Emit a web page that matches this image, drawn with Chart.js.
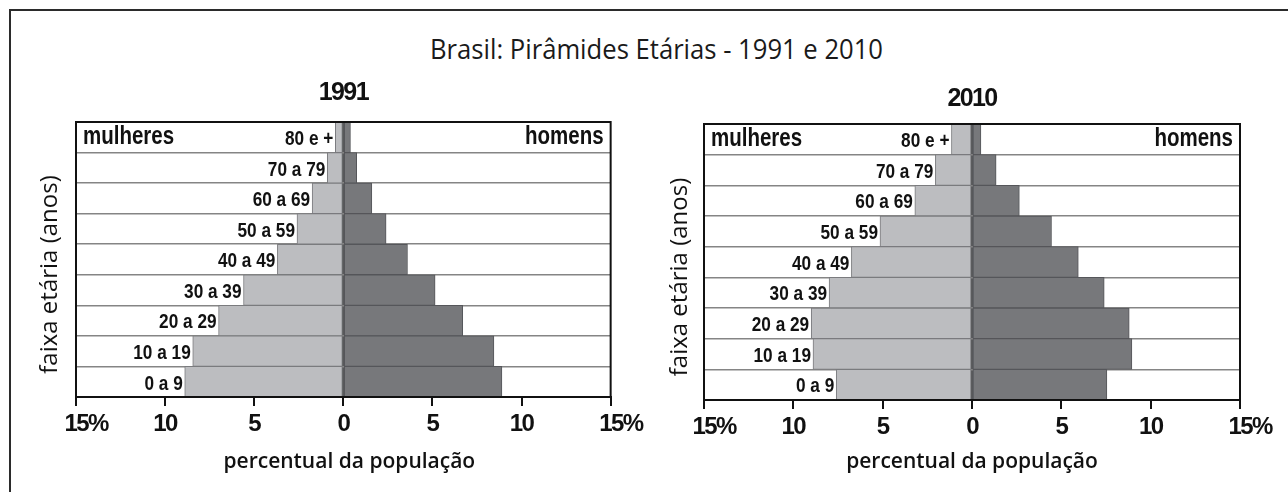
<!DOCTYPE html>
<html lang="pt-BR">
<head>
<meta charset="utf-8">
<title>Brasil: Pirâmides Etárias - 1991 e 2010</title>
<script src="https://cdn.jsdelivr.net/npm/chart.js@4.4.1/dist/chart.umd.min.js"></script>
<style>
  html, body { margin: 0; padding: 0; background: #fff; }
  body { width: 1288px; height: 492px; position: relative; overflow: hidden; }
  #moldura { position: absolute; left: 9px; top: 9px; width: 1300px; height: 500px; border: 2px solid #2b2b2b; }
  #titulo {
    position: absolute; left: 0; top: 30px; width: 1313px; text-align: center;
  }
  #titulo span {
    display: inline-block; white-space: nowrap; transform-origin: 50% 50%;
    font: 400 28px/36px 'Open Sans', 'DejaVu Sans Condensed', sans-serif; color: #1a1a1a;
  }
  canvas { position: absolute; top: 70px; }
  #c1991 { left: 0; }
  #c2010 { left: 640px; }
</style>
</head>
<body>
<div id="moldura"></div>
<div id="titulo"><span>Brasil: Pirâmides Etárias - 1991 e 2010</span></div>
<canvas id="c1991" width="652" height="422"></canvas>
<canvas id="c2010" width="648" height="422"></canvas>
<script>
// faixas etárias, de cima para baixo
const faixas = ['80 e +', '70 a 79', '60 a 69', '50 a 59', '40 a 49', '30 a 39', '20 a 29', '10 a 19', '0 a 9'];

// % da população
const mulheres1991 = [0.45, 0.9, 1.75, 2.6, 3.7, 5.6, 7.0, 8.45, 8.9];
const homens1991 = [0.4, 0.75, 1.6, 2.4, 3.6, 5.15, 6.7, 8.45, 8.9];
const mulheres2010 = [1.15, 2.05, 3.2, 5.15, 6.75, 8.0, 9.0, 8.9, 7.6];
const homens2010 = [0.5, 1.35, 2.65, 4.45, 5.95, 7.4, 8.8, 8.95, 7.55];

// o título do original é uma fonte condensada: comprime a Open Sans na largura dele
const tit = document.querySelector('#titulo span');
tit.style.transform = `scaleX(${453 / tit.getBoundingClientRect().width})`;

const bold = "'Liberation Sans', Arial, sans-serif";
const sans = "'Open Sans', 'Noto Sans', sans-serif";
const preto = '#111';

// letras mais juntas para imitar a Helvetica condensada (ticks e título de cada pirâmide)
const apertado = {
    id: 'apertado',
    beforeDraw(chart) { chart.ctx.letterSpacing = '-1.6px'; }
};

// texto em negrito "estreitado" na horizontal
function textoEstreito(ctx, txt, x, y) {
    ctx.save();
    ctx.translate(x, y);
    ctx.scale(0.82, 1);
    ctx.fillText(txt, 0, 0);
    ctx.restore();
}

// rótulos das faixas junto à barra feminina, mulheres/homens, moldura e títulos dos eixos
const piramide = {
    id: 'piramide',
    afterDatasetsDraw(chart, args, opts) {
        const { ctx, chartArea: a } = chart;
        const barras = chart.getDatasetMeta(0).data;
        ctx.save();
        ctx.letterSpacing = '0px';
        ctx.fillStyle = preto;
        ctx.textBaseline = 'middle';
        ctx.textAlign = 'right';
        ctx.font = `bold 21px ${bold}`;
        barras.forEach((b, i) => textoEstreito(ctx, chart.data.labels[i], b.x - 2, b.y + 2));

        const y0 = barras[0].y;
        ctx.font = `bold 25px ${bold}`;
        ctx.textAlign = 'left';
        textoEstreito(ctx, chart.data.datasets[0].label, a.left + 7, y0);
        ctx.textAlign = 'right';
        textoEstreito(ctx, chart.data.datasets[1].label, a.right - 7, y0);

        ctx.strokeStyle = preto;
        ctx.lineWidth = 2;
        ctx.strokeRect(a.left, a.top, a.right - a.left, a.bottom - a.top);

        ctx.textAlign = 'center';
        ctx.font = `600 21px ${sans}`;
        ctx.fillText('percentual da população', (a.left + a.right) / 2 + opts.tx, chart.height - 30);

        ctx.translate(a.left - opts.dx, (a.top + a.bottom) / 2 + 15);
        ctx.rotate(-Math.PI / 2);
        ctx.font = `500 24px ${sans}`;
        ctx.fillText('faixa etária (anos)', 0, 0);
        ctx.restore();
    }
};

function configPiramide(ano, mulheres, homens, lay) {
    return {
        type: 'bar',
        data: {
            labels: faixas,
            datasets: [
                { label: 'mulheres', data: mulheres.map(v => -v), backgroundColor: '#bcbdc0', borderColor: '#7a7b7e', borderWidth: 1, borderSkipped: false },
                { label: 'homens', data: homens, backgroundColor: '#77787b', borderColor: '#55565a', borderWidth: 1, borderSkipped: false }
            ]
        },
        options: {
            indexAxis: 'y',
            responsive: false,
            animation: false,
            datasets: { bar: { barPercentage: 1, categoryPercentage: 1 } },
            layout: { padding: { left: 0, right: lay.direita, top: 0, bottom: 0 } },
            plugins: {
                legend: { display: false },
                tooltip: { enabled: false },
                title: {
                    display: true, text: ano, fullSize: false, color: preto,
                    font: { family: bold, size: 25, weight: 'bold' },
                    padding: { top: lay.tt, bottom: lay.tb }
                },
                piramide: { dx: lay.dx, tx: lay.tx }
            },
            scales: {
                x: {
                    stacked: true, min: -15, max: 15,
                    afterFit: s => { s.height = lay.altX; },
                    // só a linha do zero aparece dentro da área; os traços dos ticks ficam pretos
                    grid: {
                        drawOnChartArea: true, drawTicks: true, tickLength: 9, lineWidth: 2,
                        color: c => c.tick && c.tick.value === 0 ? '#58595b' : 'rgba(0,0,0,0)',
                        tickColor: preto, tickWidth: 2
                    },
                    border: { color: preto, width: 2 },
                    ticks: {
                        stepSize: 5, padding: 4, color: preto, autoSkip: false, maxRotation: 0,
                        font: { family: bold, size: 24, weight: 'bold' },
                        // no original o número fica centrado no traço e o % sobra à direita
                        callback: v => Math.abs(v) === 15 ? '    15%' : String(Math.abs(v))
                    }
                },
                y: {
                    stacked: true,
                    afterFit: s => { s.width = lay.largY; },
                    ticks: { display: false },
                    grid: { offset: true, color: '#858585', lineWidth: 1.5, drawTicks: false },
                    border: { color: preto, width: 2 }
                }
            }
        },
        plugins: [apertado, piramide]
    };
}

new Chart(document.getElementById('c1991'),
    configPiramide('1991', mulheres1991, homens1991, { direita: 38, largY: 76, altX: 95, tt: 8, tb: 14, dx: 26, tx: 6 }));
new Chart(document.getElementById('c2010'),
    configPiramide('2010', mulheres2010, homens2010, { direita: 48, largY: 64, altX: 92, tt: 14, tb: 10, dx: 24, tx: 0 }));
</script>
</body>
</html>
